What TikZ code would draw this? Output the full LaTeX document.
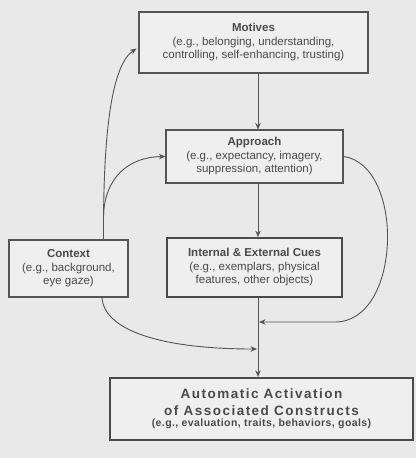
\documentclass[tikz,border=0pt]{standalone}
\usepackage{fontspec}
\setmainfont{Liberation Sans}
\usetikzlibrary{arrows.meta,calc}
\definecolor{bg}{HTML}{E9E9E9}
\definecolor{boxfill}{HTML}{EFEFEF}
\definecolor{ink}{HTML}{4A4A4A}
\definecolor{linec}{HTML}{555555}
\newcommand\autotitlefont{\fontsize{13.5}{20}\selectfont\bfseries\addfontfeature{LetterSpace=11}}
\newcommand\autosubfont{\fontsize{10.5}{13}\selectfont\bfseries\addfontfeature{LetterSpace=4}}
\begin{document}
\begin{tikzpicture}[x=1pt,y=-1pt,
  box/.style={draw=linec, line width=1.1pt, fill=boxfill, align=center, text=ink, inner sep=0pt,
    font=\fontsize{11.5}{13.5}\selectfont},
  heavybox/.style={box, line width=2.2pt, draw=ink},
  conn/.style={draw=linec, line width=0.9pt},
  arr/.style={conn, -{Stealth[length=6.5pt,width=5.5pt]}}]
\fill[bg] (0,0) rectangle (416,458);
\useasboundingbox (0,0) rectangle (416,458);

\node[box, minimum width=229pt, minimum height=61pt] (motives) at (253.5,42.5)
  {\textbf{Motives}\\(e.g., belonging, understanding,\\controlling, self-enhancing, trusting)};
\node[box, minimum width=177pt, minimum height=53pt] (approach) at (254.5,156.5)
  {\textbf{Approach}\\(e.g., expectancy, imagery,\\suppression, attention)};
\node[box, minimum width=119pt, minimum height=57pt] (context) at (68.5,268.5)
  {\textbf{Context}\\(e.g., background,\\eye gaze)};
\node[heavybox, line width=1.8pt, minimum width=175pt, minimum height=59pt] (cues) at (254.5,267.5)
  {\textbf{Internal \& External Cues}\\(e.g., exemplars, physical\\features, other objects)};
\node[heavybox, minimum width=303pt, minimum height=62pt] (auto) at (261.5,409)
  {{\autotitlefont Automatic Activation}\\[3pt]{\autotitlefont of Associated Constructs}\\[-2pt]{\autosubfont (e.g., evaluation, traits, behaviors, goals)}};

\coordinate (spine) at (258,0);
\coordinate (rj) at (259,322);
\coordinate (lj) at (257,349);
\coordinate (fork) at (103.5,215);

\draw[arr] (motives.south -| spine) -- (approach.north -| spine);
\draw[arr] (approach.south -| spine) -- (cues.north -| spine);
\draw[arr] (cues.south -| spine) -- (auto.north -| spine);

\draw[arr] (approach.east) .. controls (405,165) and (402,322) .. (335,322) -- (rj);
\draw[arr] ($(context.south)+(33.5,0)$) .. controls (104,330) and (160,349) .. (lj);

\draw[arr] ($(context.north)+(35,0)$) .. controls (103,130) and (112,65) .. ($(motives.south west)+(-2,-25)$);
\draw[arr] (fork) .. controls (105,178) and (128,157) .. (approach.west);
\end{tikzpicture}
\end{document}
